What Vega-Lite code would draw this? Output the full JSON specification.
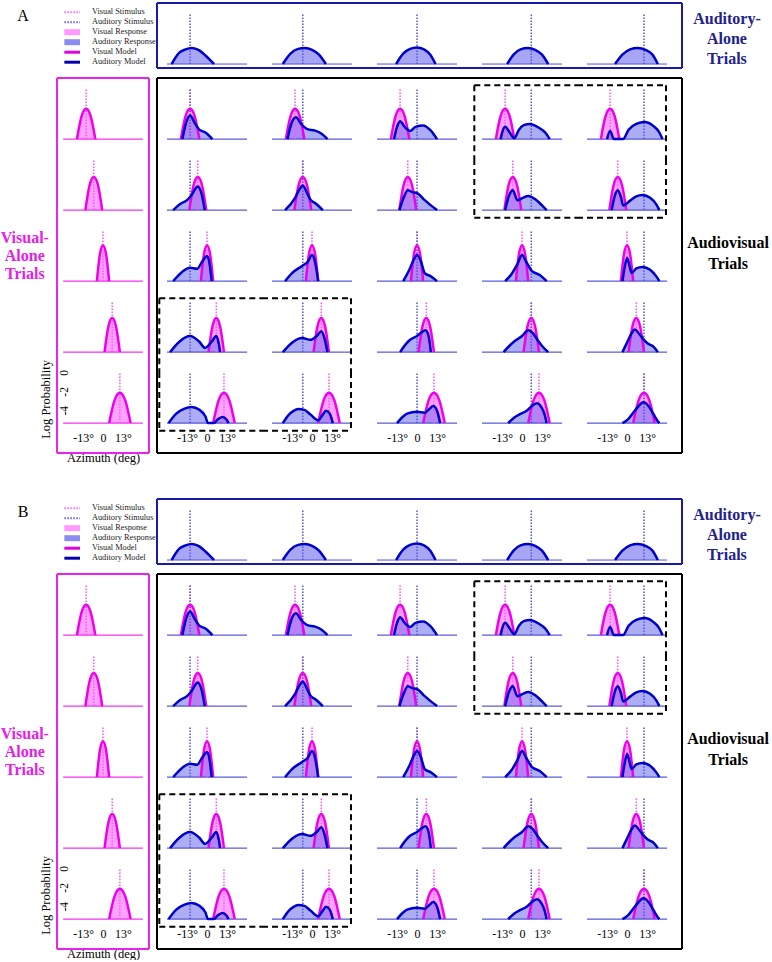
{
"$schema":"https://vega.github.io/schema/vega-lite/v6.json",
"background":"white",
"padding":{"left":0,"top":2,"right":0,"bottom":0},
"config":{"view":{"stroke":null},"font":"Liberation Serif","axisY":{"disable":true}},
"datasets":{
"lg":[{"k":"vs","it":"Visual Stimulus"},{"k":"as","it":"Auditory Stimulus"},{"k":"vr","it":"Visual Response"},{"k":"ar","it":"Auditory Response"},{"k":"vm","it":"Visual Model"},{"k":"am","it":"Auditory Model"}],
"d":[
{"p":"AB","r":1,"c":0,"sv":-11},{"p":"AB","r":2,"c":0,"sv":-6},{"p":"AB","r":3,"c":0,"sv":0},{"p":"AB","r":4,"c":0,"sv":6},{"p":"AB","r":5,"c":0,"sv":11},
{"p":"AB","r":0,"c":1,"sa":-11},{"p":"AB","r":0,"c":2,"sa":-6},{"p":"AB","r":0,"c":3,"sa":0},{"p":"AB","r":0,"c":4,"sa":6},{"p":"AB","r":0,"c":5,"sa":11},
{"p":"AB","r":1,"c":1,"sv":-11,"sa":-11},{"p":"AB","r":1,"c":2,"sv":-11,"sa":-6},{"p":"AB","r":1,"c":3,"sv":-11,"sa":0},{"p":"AB","r":1,"c":4,"sv":-11,"sa":6},{"p":"AB","r":1,"c":5,"sv":-11,"sa":11},
{"p":"AB","r":2,"c":1,"sv":-6,"sa":-11},{"p":"AB","r":2,"c":2,"sv":-6,"sa":-6},{"p":"AB","r":2,"c":3,"sv":-6,"sa":0},{"p":"AB","r":2,"c":4,"sv":-6,"sa":6},{"p":"AB","r":2,"c":5,"sv":-6,"sa":11},
{"p":"AB","r":3,"c":1,"sv":0,"sa":-11},{"p":"AB","r":3,"c":2,"sv":0,"sa":-6},{"p":"AB","r":3,"c":3,"sv":0,"sa":0},{"p":"AB","r":3,"c":4,"sv":0,"sa":6},{"p":"AB","r":3,"c":5,"sv":0,"sa":11},
{"p":"AB","r":4,"c":1,"sv":6,"sa":-11},{"p":"AB","r":4,"c":2,"sv":6,"sa":-6},{"p":"AB","r":4,"c":3,"sv":6,"sa":0},{"p":"AB","r":4,"c":4,"sv":6,"sa":6},{"p":"AB","r":4,"c":5,"sv":6,"sa":11},
{"p":"AB","r":5,"c":1,"sv":11,"sa":-11},{"p":"AB","r":5,"c":2,"sv":11,"sa":-6},{"p":"AB","r":5,"c":3,"sv":11,"sa":0},{"p":"AB","r":5,"c":4,"sv":11,"sa":6},{"p":"AB","r":5,"c":5,"sv":11,"sa":11},

{"p":"AB","r":1,"c":0,"x":-17,"v":-5.3},{"p":"AB","r":1,"c":0,"x":-14,"v":-2.9},{"p":"AB","r":1,"c":0,"x":-11,"v":-2.1},{"p":"AB","r":1,"c":0,"x":-8,"v":-2.9},{"p":"AB","r":1,"c":0,"x":-5,"v":-5.3},
{"p":"AB","r":1,"c":1,"x":-17,"v":-5.3},{"p":"AB","r":1,"c":1,"x":-14,"v":-2.9},{"p":"AB","r":1,"c":1,"x":-11,"v":-2.1},{"p":"AB","r":1,"c":1,"x":-8,"v":-2.9},{"p":"AB","r":1,"c":1,"x":-5,"v":-5.3},
{"p":"AB","r":1,"c":2,"x":-17,"v":-5.3},{"p":"AB","r":1,"c":2,"x":-14,"v":-2.9},{"p":"AB","r":1,"c":2,"x":-11,"v":-2.1},{"p":"AB","r":1,"c":2,"x":-8,"v":-2.9},{"p":"AB","r":1,"c":2,"x":-5,"v":-5.3},
{"p":"AB","r":1,"c":3,"x":-17,"v":-5.3},{"p":"AB","r":1,"c":3,"x":-14,"v":-2.9},{"p":"AB","r":1,"c":3,"x":-11,"v":-2.1},{"p":"AB","r":1,"c":3,"x":-8,"v":-2.9},{"p":"AB","r":1,"c":3,"x":-5,"v":-5.3},
{"p":"AB","r":1,"c":4,"x":-17,"v":-5.3},{"p":"AB","r":1,"c":4,"x":-14,"v":-2.9},{"p":"AB","r":1,"c":4,"x":-11,"v":-2.1},{"p":"AB","r":1,"c":4,"x":-8,"v":-2.9},{"p":"AB","r":1,"c":4,"x":-5,"v":-5.3},
{"p":"AB","r":1,"c":5,"x":-17,"v":-5.3},{"p":"AB","r":1,"c":5,"x":-14,"v":-2.9},{"p":"AB","r":1,"c":5,"x":-11,"v":-2.1},{"p":"AB","r":1,"c":5,"x":-8,"v":-2.9},{"p":"AB","r":1,"c":5,"x":-5,"v":-5.3},
{"p":"AB","r":2,"c":0,"x":-11.5,"v":-5.3},{"p":"AB","r":2,"c":0,"x":-8.75,"v":-2.67},{"p":"AB","r":2,"c":0,"x":-6,"v":-1.8},{"p":"AB","r":2,"c":0,"x":-3.25,"v":-2.67},{"p":"AB","r":2,"c":0,"x":-0.5,"v":-5.3},
{"p":"AB","r":2,"c":1,"x":-11.5,"v":-5.3},{"p":"AB","r":2,"c":1,"x":-8.75,"v":-2.67},{"p":"AB","r":2,"c":1,"x":-6,"v":-1.8},{"p":"AB","r":2,"c":1,"x":-3.25,"v":-2.67},{"p":"AB","r":2,"c":1,"x":-0.5,"v":-5.3},
{"p":"AB","r":2,"c":2,"x":-11.5,"v":-5.3},{"p":"AB","r":2,"c":2,"x":-8.75,"v":-2.67},{"p":"AB","r":2,"c":2,"x":-6,"v":-1.8},{"p":"AB","r":2,"c":2,"x":-3.25,"v":-2.67},{"p":"AB","r":2,"c":2,"x":-0.5,"v":-5.3},
{"p":"AB","r":2,"c":3,"x":-11.5,"v":-5.3},{"p":"AB","r":2,"c":3,"x":-8.75,"v":-2.67},{"p":"AB","r":2,"c":3,"x":-6,"v":-1.8},{"p":"AB","r":2,"c":3,"x":-3.25,"v":-2.67},{"p":"AB","r":2,"c":3,"x":-0.5,"v":-5.3},
{"p":"AB","r":2,"c":4,"x":-11.5,"v":-5.3},{"p":"AB","r":2,"c":4,"x":-8.75,"v":-2.67},{"p":"AB","r":2,"c":4,"x":-6,"v":-1.8},{"p":"AB","r":2,"c":4,"x":-3.25,"v":-2.67},{"p":"AB","r":2,"c":4,"x":-0.5,"v":-5.3},
{"p":"AB","r":2,"c":5,"x":-11.5,"v":-5.3},{"p":"AB","r":2,"c":5,"x":-8.75,"v":-2.67},{"p":"AB","r":2,"c":5,"x":-6,"v":-1.8},{"p":"AB","r":2,"c":5,"x":-3.25,"v":-2.67},{"p":"AB","r":2,"c":5,"x":-0.5,"v":-5.3},
{"p":"AB","r":3,"c":0,"x":-4,"v":-5.3},{"p":"AB","r":3,"c":0,"x":-2,"v":-2.45},{"p":"AB","r":3,"c":0,"x":0,"v":-1.5},{"p":"AB","r":3,"c":0,"x":2,"v":-2.45},{"p":"AB","r":3,"c":0,"x":4,"v":-5.3},
{"p":"AB","r":3,"c":1,"x":-4,"v":-5.3},{"p":"AB","r":3,"c":1,"x":-2,"v":-2.45},{"p":"AB","r":3,"c":1,"x":0,"v":-1.5},{"p":"AB","r":3,"c":1,"x":2,"v":-2.45},{"p":"AB","r":3,"c":1,"x":4,"v":-5.3},
{"p":"AB","r":3,"c":2,"x":-4,"v":-5.3},{"p":"AB","r":3,"c":2,"x":-2,"v":-2.45},{"p":"AB","r":3,"c":2,"x":0,"v":-1.5},{"p":"AB","r":3,"c":2,"x":2,"v":-2.45},{"p":"AB","r":3,"c":2,"x":4,"v":-5.3},
{"p":"AB","r":3,"c":3,"x":-4,"v":-5.3},{"p":"AB","r":3,"c":3,"x":-2,"v":-2.45},{"p":"AB","r":3,"c":3,"x":0,"v":-1.5},{"p":"AB","r":3,"c":3,"x":2,"v":-2.45},{"p":"AB","r":3,"c":3,"x":4,"v":-5.3},
{"p":"AB","r":3,"c":4,"x":-4,"v":-5.3},{"p":"AB","r":3,"c":4,"x":-2,"v":-2.45},{"p":"AB","r":3,"c":4,"x":0,"v":-1.5},{"p":"AB","r":3,"c":4,"x":2,"v":-2.45},{"p":"AB","r":3,"c":4,"x":4,"v":-5.3},
{"p":"AB","r":3,"c":5,"x":-4,"v":-5.3},{"p":"AB","r":3,"c":5,"x":-2,"v":-2.45},{"p":"AB","r":3,"c":5,"x":0,"v":-1.5},{"p":"AB","r":3,"c":5,"x":2,"v":-2.45},{"p":"AB","r":3,"c":5,"x":4,"v":-5.3},
{"p":"AB","r":4,"c":0,"x":1,"v":-5.3},{"p":"AB","r":4,"c":0,"x":3.5,"v":-2.6},{"p":"AB","r":4,"c":0,"x":6,"v":-1.7},{"p":"AB","r":4,"c":0,"x":8.5,"v":-2.6},{"p":"AB","r":4,"c":0,"x":11,"v":-5.3},
{"p":"AB","r":4,"c":1,"x":1,"v":-5.3},{"p":"AB","r":4,"c":1,"x":3.5,"v":-2.6},{"p":"AB","r":4,"c":1,"x":6,"v":-1.7},{"p":"AB","r":4,"c":1,"x":8.5,"v":-2.6},{"p":"AB","r":4,"c":1,"x":11,"v":-5.3},
{"p":"AB","r":4,"c":2,"x":1,"v":-5.3},{"p":"AB","r":4,"c":2,"x":3.5,"v":-2.6},{"p":"AB","r":4,"c":2,"x":6,"v":-1.7},{"p":"AB","r":4,"c":2,"x":8.5,"v":-2.6},{"p":"AB","r":4,"c":2,"x":11,"v":-5.3},
{"p":"AB","r":4,"c":3,"x":1,"v":-5.3},{"p":"AB","r":4,"c":3,"x":3.5,"v":-2.6},{"p":"AB","r":4,"c":3,"x":6,"v":-1.7},{"p":"AB","r":4,"c":3,"x":8.5,"v":-2.6},{"p":"AB","r":4,"c":3,"x":11,"v":-5.3},
{"p":"AB","r":4,"c":4,"x":1,"v":-5.3},{"p":"AB","r":4,"c":4,"x":3.5,"v":-2.6},{"p":"AB","r":4,"c":4,"x":6,"v":-1.7},{"p":"AB","r":4,"c":4,"x":8.5,"v":-2.6},{"p":"AB","r":4,"c":4,"x":11,"v":-5.3},
{"p":"AB","r":4,"c":5,"x":1,"v":-5.3},{"p":"AB","r":4,"c":5,"x":3.5,"v":-2.6},{"p":"AB","r":4,"c":5,"x":6,"v":-1.7},{"p":"AB","r":4,"c":5,"x":8.5,"v":-2.6},{"p":"AB","r":4,"c":5,"x":11,"v":-5.3},
{"p":"AB","r":5,"c":0,"x":4,"v":-5.3},{"p":"AB","r":5,"c":0,"x":7.5,"v":-2.9},{"p":"AB","r":5,"c":0,"x":11,"v":-2.1},{"p":"AB","r":5,"c":0,"x":14.5,"v":-2.9},{"p":"AB","r":5,"c":0,"x":18,"v":-5.3},
{"p":"AB","r":5,"c":1,"x":4,"v":-5.3},{"p":"AB","r":5,"c":1,"x":7.5,"v":-2.9},{"p":"AB","r":5,"c":1,"x":11,"v":-2.1},{"p":"AB","r":5,"c":1,"x":14.5,"v":-2.9},{"p":"AB","r":5,"c":1,"x":18,"v":-5.3},
{"p":"AB","r":5,"c":2,"x":4,"v":-5.3},{"p":"AB","r":5,"c":2,"x":7.5,"v":-2.9},{"p":"AB","r":5,"c":2,"x":11,"v":-2.1},{"p":"AB","r":5,"c":2,"x":14.5,"v":-2.9},{"p":"AB","r":5,"c":2,"x":18,"v":-5.3},
{"p":"AB","r":5,"c":3,"x":4,"v":-5.3},{"p":"AB","r":5,"c":3,"x":7.5,"v":-2.9},{"p":"AB","r":5,"c":3,"x":11,"v":-2.1},{"p":"AB","r":5,"c":3,"x":14.5,"v":-2.9},{"p":"AB","r":5,"c":3,"x":18,"v":-5.3},
{"p":"AB","r":5,"c":4,"x":4,"v":-5.3},{"p":"AB","r":5,"c":4,"x":7.5,"v":-2.9},{"p":"AB","r":5,"c":4,"x":11,"v":-2.1},{"p":"AB","r":5,"c":4,"x":14.5,"v":-2.9},{"p":"AB","r":5,"c":4,"x":18,"v":-5.3},
{"p":"AB","r":5,"c":5,"x":4,"v":-5.3},{"p":"AB","r":5,"c":5,"x":7.5,"v":-2.9},{"p":"AB","r":5,"c":5,"x":11,"v":-2.1},{"p":"AB","r":5,"c":5,"x":14.5,"v":-2.9},{"p":"AB","r":5,"c":5,"x":18,"v":-5.3},

{"p":"AB","r":0,"c":1,"x":-23,"a":-5.3},{"p":"AB","r":0,"c":1,"x":-18,"a":-4.1},{"p":"AB","r":0,"c":1,"x":-14,"a":-3.75},{"p":"AB","r":0,"c":1,"x":-10,"a":-3.6},{"p":"AB","r":0,"c":1,"x":-5,"a":-3.85},{"p":"AB","r":0,"c":1,"x":-1,"a":-4.4},{"p":"AB","r":0,"c":1,"x":4.5,"a":-5.3},
{"p":"AB","r":0,"c":2,"x":-19,"a":-5.3},{"p":"AB","r":0,"c":2,"x":-14,"a":-4.2},{"p":"AB","r":0,"c":2,"x":-9,"a":-3.7},{"p":"AB","r":0,"c":2,"x":-4.5,"a":-3.6},{"p":"AB","r":0,"c":2,"x":0,"a":-3.8},{"p":"AB","r":0,"c":2,"x":4.5,"a":-4.3},{"p":"AB","r":0,"c":2,"x":9,"a":-5.3},
{"p":"AB","r":0,"c":3,"x":-13.6,"a":-5.3},{"p":"AB","r":0,"c":3,"x":-9,"a":-4.2},{"p":"AB","r":0,"c":3,"x":-4.5,"a":-3.7},{"p":"AB","r":0,"c":3,"x":0,"a":-3.55},{"p":"AB","r":0,"c":3,"x":4.5,"a":-3.75},{"p":"AB","r":0,"c":3,"x":8.5,"a":-4.3},{"p":"AB","r":0,"c":3,"x":12,"a":-5.3},
{"p":"AB","r":0,"c":4,"x":-9.7,"a":-5.3},{"p":"AB","r":0,"c":4,"x":-5.5,"a":-4.3},{"p":"AB","r":0,"c":4,"x":-1,"a":-3.75},{"p":"AB","r":0,"c":4,"x":4,"a":-3.6},{"p":"AB","r":0,"c":4,"x":8.5,"a":-3.8},{"p":"AB","r":0,"c":4,"x":13,"a":-4.3},{"p":"AB","r":0,"c":4,"x":17,"a":-5.3},
{"p":"AB","r":0,"c":5,"x":-7.8,"a":-5.3},{"p":"AB","r":0,"c":5,"x":-3,"a":-4.3},{"p":"AB","r":0,"c":5,"x":2,"a":-3.75},{"p":"AB","r":0,"c":5,"x":7,"a":-3.6},{"p":"AB","r":0,"c":5,"x":12,"a":-3.8},{"p":"AB","r":0,"c":5,"x":16.5,"a":-4.3},{"p":"AB","r":0,"c":5,"x":20,"a":-5.3},

{"p":"AB","r":1,"c":1,"x":-16,"a":-5.3},{"p":"AB","r":1,"c":1,"x":-14,"a":-3.8},{"p":"AB","r":1,"c":1,"x":-11,"a":-2.8},{"p":"AB","r":1,"c":1,"x":-8,"a":-3.6},{"p":"AB","r":1,"c":1,"x":-5,"a":-4.3},{"p":"AB","r":1,"c":1,"x":-1,"a":-4.6},{"p":"AB","r":1,"c":1,"x":3.5,"a":-5.3},
{"p":"AB","r":1,"c":2,"x":-16,"a":-5.3},{"p":"AB","r":1,"c":2,"x":-13.5,"a":-3.7},{"p":"AB","r":1,"c":2,"x":-10.5,"a":-3.0},{"p":"AB","r":1,"c":2,"x":-7,"a":-3.7},{"p":"AB","r":1,"c":2,"x":-3,"a":-4.25},{"p":"AB","r":1,"c":2,"x":2,"a":-4.4},{"p":"AB","r":1,"c":2,"x":6,"a":-4.7},{"p":"AB","r":1,"c":2,"x":10,"a":-5.3},
{"p":"AB","r":1,"c":3,"x":-15,"a":-5.3},{"p":"AB","r":1,"c":3,"x":-13,"a":-4.0},{"p":"AB","r":1,"c":3,"x":-11,"a":-3.4},{"p":"AB","r":1,"c":3,"x":-8,"a":-4.0},{"p":"AB","r":1,"c":3,"x":-4.5,"a":-4.45},{"p":"AB","r":1,"c":3,"x":-1,"a":-4.0},{"p":"AB","r":1,"c":3,"x":4,"a":-3.85},{"p":"AB","r":1,"c":3,"x":9,"a":-4.4},{"p":"AB","r":1,"c":3,"x":13,"a":-5.3},
{"p":"AB","r":1,"c":4,"x":-14,"a":-5.3},{"p":"AB","r":1,"c":4,"x":-11,"a":-4.0},{"p":"AB","r":1,"c":4,"x":-8,"a":-4.6},{"p":"AB","r":1,"c":4,"x":-5,"a":-5.2},{"p":"AB","r":1,"c":4,"x":-2,"a":-4.3},{"p":"AB","r":1,"c":4,"x":1.5,"a":-3.8},{"p":"AB","r":1,"c":4,"x":5,"a":-3.7},{"p":"AB","r":1,"c":4,"x":11,"a":-4.1},{"p":"AB","r":1,"c":4,"x":15,"a":-4.6},{"p":"AB","r":1,"c":4,"x":18,"a":-5.3},
{"p":"AB","r":1,"c":5,"x":-13,"a":-5.3},{"p":"AB","r":1,"c":5,"x":-11,"a":-4.45},{"p":"AB","r":1,"c":5,"x":-8.5,"a":-5.3},{"p":"AB","r":1,"c":5,"x":-2.6,"a":-5.3},{"p":"AB","r":1,"c":5,"x":1,"a":-4.3},{"p":"AB","r":1,"c":5,"x":6,"a":-3.7},{"p":"AB","r":1,"c":5,"x":11.5,"a":-3.5},{"p":"AB","r":1,"c":5,"x":17,"a":-3.9},{"p":"AB","r":1,"c":5,"x":21,"a":-4.6},{"p":"AB","r":1,"c":5,"x":23,"a":-5.3},
{"p":"AB","r":2,"c":1,"x":-22,"a":-5.3},{"p":"AB","r":2,"c":1,"x":-17.5,"a":-4.65},{"p":"AB","r":2,"c":1,"x":-13,"a":-4.25},{"p":"AB","r":2,"c":1,"x":-10,"a":-3.7},{"p":"AB","r":2,"c":1,"x":-6,"a":-2.8},{"p":"AB","r":2,"c":1,"x":-3.5,"a":-3.6},{"p":"AB","r":2,"c":1,"x":-1.5,"a":-5.3},
{"p":"AB","r":2,"c":2,"x":-17.5,"a":-5.3},{"p":"AB","r":2,"c":2,"x":-11,"a":-4.0},{"p":"AB","r":2,"c":2,"x":-8.5,"a":-3.2},{"p":"AB","r":2,"c":2,"x":-6,"a":-2.7},{"p":"AB","r":2,"c":2,"x":-3.5,"a":-3.4},{"p":"AB","r":2,"c":2,"x":-1,"a":-4.2},{"p":"AB","r":2,"c":2,"x":2,"a":-4.55},{"p":"AB","r":2,"c":2,"x":7,"a":-5.3},
{"p":"AB","r":2,"c":3,"x":-11.5,"a":-5.3},{"p":"AB","r":2,"c":3,"x":-8.5,"a":-3.9},{"p":"AB","r":2,"c":3,"x":-6,"a":-3.2},{"p":"AB","r":2,"c":3,"x":-3,"a":-3.4},{"p":"AB","r":2,"c":3,"x":0,"a":-3.5},{"p":"AB","r":2,"c":3,"x":5,"a":-4.25},{"p":"AB","r":2,"c":3,"x":9,"a":-4.8},{"p":"AB","r":2,"c":3,"x":13,"a":-5.3},
{"p":"AB","r":2,"c":4,"x":-11,"a":-5.3},{"p":"AB","r":2,"c":4,"x":-8.5,"a":-3.8},{"p":"AB","r":2,"c":4,"x":-6,"a":-3.2},{"p":"AB","r":2,"c":4,"x":-3,"a":-4.25},{"p":"AB","r":2,"c":4,"x":0.5,"a":-4.0},{"p":"AB","r":2,"c":4,"x":4,"a":-3.8},{"p":"AB","r":2,"c":4,"x":9,"a":-4.2},{"p":"AB","r":2,"c":4,"x":13,"a":-4.8},{"p":"AB","r":2,"c":4,"x":16,"a":-5.3},
{"p":"AB","r":2,"c":5,"x":-10,"a":-5.3},{"p":"AB","r":2,"c":5,"x":-8,"a":-3.8},{"p":"AB","r":2,"c":5,"x":-6,"a":-3.2},{"p":"AB","r":2,"c":5,"x":-4,"a":-3.9},{"p":"AB","r":2,"c":5,"x":-2.5,"a":-4.8},{"p":"AB","r":2,"c":5,"x":2,"a":-4.3},{"p":"AB","r":2,"c":5,"x":6,"a":-3.85},{"p":"AB","r":2,"c":5,"x":10,"a":-3.7},{"p":"AB","r":2,"c":5,"x":15,"a":-4.0},{"p":"AB","r":2,"c":5,"x":19,"a":-4.7},{"p":"AB","r":2,"c":5,"x":21,"a":-5.3},
{"p":"AB","r":3,"c":1,"x":-22,"a":-5.3},{"p":"AB","r":3,"c":1,"x":-16,"a":-4.3},{"p":"AB","r":3,"c":1,"x":-11,"a":-3.9},{"p":"AB","r":3,"c":1,"x":-6.5,"a":-4.0},{"p":"AB","r":3,"c":1,"x":-3,"a":-3.2},{"p":"AB","r":3,"c":1,"x":0,"a":-2.65},{"p":"AB","r":3,"c":1,"x":1.5,"a":-3.3},{"p":"AB","r":3,"c":1,"x":3,"a":-5.3},
{"p":"AB","r":3,"c":2,"x":-17.5,"a":-5.3},{"p":"AB","r":3,"c":2,"x":-13,"a":-4.45},{"p":"AB","r":3,"c":2,"x":-6.5,"a":-3.7},{"p":"AB","r":3,"c":2,"x":-3,"a":-3.3},{"p":"AB","r":3,"c":2,"x":0,"a":-2.55},{"p":"AB","r":3,"c":2,"x":2,"a":-3.3},{"p":"AB","r":3,"c":2,"x":4,"a":-5.3},
{"p":"AB","r":3,"c":3,"x":-9,"a":-5.3},{"p":"AB","r":3,"c":3,"x":-5,"a":-4.1},{"p":"AB","r":3,"c":3,"x":-2,"a":-3.0},{"p":"AB","r":3,"c":3,"x":0,"a":-2.55},{"p":"AB","r":3,"c":3,"x":2.5,"a":-3.2},{"p":"AB","r":3,"c":3,"x":5,"a":-4.45},{"p":"AB","r":3,"c":3,"x":9,"a":-4.8},{"p":"AB","r":3,"c":3,"x":13,"a":-5.3},
{"p":"AB","r":3,"c":4,"x":-11,"a":-5.3},{"p":"AB","r":3,"c":4,"x":-7,"a":-4.6},{"p":"AB","r":3,"c":4,"x":-3,"a":-3.5},{"p":"AB","r":3,"c":4,"x":0,"a":-2.55},{"p":"AB","r":3,"c":4,"x":2.5,"a":-3.2},{"p":"AB","r":3,"c":4,"x":6.5,"a":-4.25},{"p":"AB","r":3,"c":4,"x":11.5,"a":-4.65},{"p":"AB","r":3,"c":4,"x":16,"a":-5.3},
{"p":"AB","r":3,"c":5,"x":-3,"a":-5.3},{"p":"AB","r":3,"c":5,"x":-1.5,"a":-3.8},{"p":"AB","r":3,"c":5,"x":0,"a":-2.85},{"p":"AB","r":3,"c":5,"x":1.5,"a":-3.6},{"p":"AB","r":3,"c":5,"x":3,"a":-4.45},{"p":"AB","r":3,"c":5,"x":6,"a":-3.95},{"p":"AB","r":3,"c":5,"x":10,"a":-3.8},{"p":"AB","r":3,"c":5,"x":15,"a":-4.1},{"p":"AB","r":3,"c":5,"x":19,"a":-4.8},{"p":"AB","r":3,"c":5,"x":21,"a":-5.3},
{"p":"AB","r":4,"c":1,"x":-24,"a":-5.3},{"p":"AB","r":4,"c":1,"x":-18,"a":-4.2},{"p":"AB","r":4,"c":1,"x":-11,"a":-3.6},{"p":"AB","r":4,"c":1,"x":-5,"a":-4.2},{"p":"AB","r":4,"c":1,"x":-1.3,"a":-4.85},{"p":"AB","r":4,"c":1,"x":3,"a":-4.2},{"p":"AB","r":4,"c":1,"x":6,"a":-3.6},{"p":"AB","r":4,"c":1,"x":7.5,"a":-4.3},{"p":"AB","r":4,"c":1,"x":8.5,"a":-5.3},
{"p":"AB","r":4,"c":2,"x":-19,"a":-5.3},{"p":"AB","r":4,"c":2,"x":-13,"a":-4.3},{"p":"AB","r":4,"c":2,"x":-6.5,"a":-3.8},{"p":"AB","r":4,"c":2,"x":-1,"a":-4.0},{"p":"AB","r":4,"c":2,"x":3,"a":-3.6},{"p":"AB","r":4,"c":2,"x":6,"a":-3.1},{"p":"AB","r":4,"c":2,"x":8,"a":-3.8},{"p":"AB","r":4,"c":2,"x":10,"a":-5.3},
{"p":"AB","r":4,"c":3,"x":-11,"a":-5.3},{"p":"AB","r":4,"c":3,"x":-7,"a":-4.4},{"p":"AB","r":4,"c":3,"x":-4.5,"a":-4.0},{"p":"AB","r":4,"c":3,"x":0,"a":-3.6},{"p":"AB","r":4,"c":3,"x":3,"a":-3.2},{"p":"AB","r":4,"c":3,"x":5.5,"a":-3.0},{"p":"AB","r":4,"c":3,"x":7.5,"a":-3.6},{"p":"AB","r":4,"c":3,"x":9,"a":-5.3},
{"p":"AB","r":4,"c":4,"x":-12,"a":-5.3},{"p":"AB","r":4,"c":4,"x":-8,"a":-4.6},{"p":"AB","r":4,"c":4,"x":-4.5,"a":-4.1},{"p":"AB","r":4,"c":4,"x":0,"a":-3.6},{"p":"AB","r":4,"c":4,"x":4,"a":-3.0},{"p":"AB","r":4,"c":4,"x":7,"a":-3.3},{"p":"AB","r":4,"c":4,"x":10,"a":-4.0},{"p":"AB","r":4,"c":4,"x":13,"a":-4.65},{"p":"AB","r":4,"c":4,"x":17,"a":-5.3},
{"p":"AB","r":4,"c":5,"x":-3,"a":-5.3},{"p":"AB","r":4,"c":5,"x":0,"a":-4.3},{"p":"AB","r":4,"c":5,"x":3,"a":-3.3},{"p":"AB","r":4,"c":5,"x":5,"a":-2.9},{"p":"AB","r":4,"c":5,"x":8,"a":-3.4},{"p":"AB","r":4,"c":5,"x":11,"a":-4.0},{"p":"AB","r":4,"c":5,"x":13.5,"a":-4.4},{"p":"AB","r":4,"c":5,"x":17,"a":-4.7},{"p":"AB","r":4,"c":5,"x":20,"a":-5.3},
{"p":"AB","r":5,"c":1,"x":-25,"a":-5.3},{"p":"AB","r":5,"c":1,"x":-20,"a":-4.3},{"p":"AB","r":5,"c":1,"x":-15,"a":-3.8},{"p":"AB","r":5,"c":1,"x":-10,"a":-3.6},{"p":"AB","r":5,"c":1,"x":-5,"a":-3.9},{"p":"AB","r":5,"c":1,"x":-1,"a":-4.6},{"p":"AB","r":5,"c":1,"x":0.6,"a":-5.3},{"p":"AB","r":5,"c":1,"x":4.5,"a":-5.3},{"p":"AB","r":5,"c":1,"x":7,"a":-4.9},{"p":"AB","r":5,"c":1,"x":10,"a":-4.65},{"p":"AB","r":5,"c":1,"x":12.5,"a":-4.9},{"p":"AB","r":5,"c":1,"x":14,"a":-5.3},
{"p":"AB","r":5,"c":2,"x":-19,"a":-5.3},{"p":"AB","r":5,"c":2,"x":-15,"a":-4.4},{"p":"AB","r":5,"c":2,"x":-12,"a":-4.0},{"p":"AB","r":5,"c":2,"x":-9,"a":-3.8},{"p":"AB","r":5,"c":2,"x":-5,"a":-3.9},{"p":"AB","r":5,"c":2,"x":-1,"a":-4.4},{"p":"AB","r":5,"c":2,"x":4,"a":-5.0},{"p":"AB","r":5,"c":2,"x":7,"a":-4.4},{"p":"AB","r":5,"c":2,"x":9,"a":-4.0},{"p":"AB","r":5,"c":2,"x":11.5,"a":-4.3},{"p":"AB","r":5,"c":2,"x":13.5,"a":-5.3},
{"p":"AB","r":5,"c":3,"x":-13,"a":-5.3},{"p":"AB","r":5,"c":3,"x":-9,"a":-4.6},{"p":"AB","r":5,"c":3,"x":-6.5,"a":-4.3},{"p":"AB","r":5,"c":3,"x":0,"a":-4.1},{"p":"AB","r":5,"c":3,"x":5,"a":-4.2},{"p":"AB","r":5,"c":3,"x":8,"a":-3.8},{"p":"AB","r":5,"c":3,"x":10.5,"a":-3.5},{"p":"AB","r":5,"c":3,"x":13,"a":-4.0},{"p":"AB","r":5,"c":3,"x":15,"a":-5.3},
{"p":"AB","r":5,"c":4,"x":-9,"a":-5.3},{"p":"AB","r":5,"c":4,"x":-5,"a":-4.7},{"p":"AB","r":5,"c":4,"x":-1.3,"a":-4.35},{"p":"AB","r":5,"c":4,"x":3,"a":-4.0},{"p":"AB","r":5,"c":4,"x":7,"a":-3.4},{"p":"AB","r":5,"c":4,"x":9.7,"a":-3.2},{"p":"AB","r":5,"c":4,"x":12.5,"a":-3.6},{"p":"AB","r":5,"c":4,"x":14.5,"a":-4.3},{"p":"AB","r":5,"c":4,"x":16,"a":-5.3},
{"p":"AB","r":5,"c":5,"x":-3,"a":-5.3},{"p":"AB","r":5,"c":5,"x":0.6,"a":-4.9},{"p":"AB","r":5,"c":5,"x":4,"a":-4.2},{"p":"AB","r":5,"c":5,"x":7,"a":-3.6},{"p":"AB","r":5,"c":5,"x":10.5,"a":-3.1},{"p":"AB","r":5,"c":5,"x":14,"a":-3.5},{"p":"AB","r":5,"c":5,"x":17,"a":-4.3},{"p":"AB","r":5,"c":5,"x":19.5,"a":-5.0},{"p":"AB","r":5,"c":5,"x":21,"a":-5.3}
]},
"spacing":34,
"vconcat":[
{"concat":[
 {"width":92,"height":66,"data":{"name":"lg"},"layer":[
  {"mark":{"type":"text","fontSize":16,"dy":4,"color":"black"},"transform":[{"filter":"datum.k=='vs'"}],"encoding":{"x":{"datum":-3.7,"scale":{"domain":[0,9.2]},"axis":null},"y":{"field":"it","type":"nominal","scale":{"type":"band","domain":["Visual Stimulus","Auditory Stimulus","Visual Response","Auditory Response","Visual Model","Auditory Model"],"paddingInner":0,"paddingOuter":0.3,"align":0.7},"axis":null},"text":{"value":"A"}}},
  {"mark":{"type":"rule","strokeWidth":2,"strokeDash":[1.5,1.5]},"transform":[{"filter":"datum.k=='vs'||datum.k=='as'"}],"encoding":{"x":{"datum":0.8,"axis":null},"x2":{"datum":2.5},"y":{"field":"it","type":"nominal","axis":null},"color":{"field":"k","type":"nominal","scale":{"domain":["vs","as","vr","ar","vm","am"],"range":["#ff66ff","#6666dd","#ff99ff","#8c8cf0","#e000e0","#0000b0"]},"legend":null}}},
  {"mark":{"type":"bar","size":6},"transform":[{"filter":"datum.k=='vr'||datum.k=='ar'"}],"encoding":{"x":{"datum":0.8,"axis":null},"x2":{"datum":2.5},"y":{"field":"it","type":"nominal","axis":null},"color":{"field":"k","type":"nominal","legend":null}}},
  {"mark":{"type":"rule","strokeWidth":3},"transform":[{"filter":"datum.k=='vm'||datum.k=='am'"}],"encoding":{"x":{"datum":0.8,"axis":null},"x2":{"datum":2.5},"y":{"field":"it","type":"nominal","axis":null},"color":{"field":"k","type":"nominal","legend":null}}},
  {"mark":{"type":"text","align":"left","baseline":"middle","fontSize":8.3,"color":"#222"},"encoding":{"x":{"datum":3.8,"axis":null},"y":{"field":"it","type":"nominal","axis":null},"text":{"field":"it"}}}
 ]},
 {"data":{"name":"d"},"transform":[{"filter":"indexof(datum.p,'A')>=0&&datum.r==0"}],
  "bounds":"flush","spacing":0,
  "facet":{"column":{"field":"c","type":"ordinal","title":null,"header":{"labels":false}}},
  "spec":{"width":105,"height":65,"layer":[
   {"mark":{"type":"area","color":"#7777ee","opacity":0.65,"interpolate":"monotone"},"transform":[{"filter":"isValid(datum.a)"}],"encoding":{"x":{"field":"x","type":"quantitative","scale":{"domain":[-32.5,35.7],"nice":false,"zero":false},"axis":null},"y":{"field":"a","type":"quantitative","scale":{"domain":[-5.72,1.16],"nice":false,"zero":false}},"y2":{"datum":-5.3}}},
   {"mark":{"type":"rule","color":"#5555dd","strokeWidth":1},"transform":[{"filter":"isValid(datum.sa)"}],"encoding":{"x":{"datum":-26,"axis":null},"x2":{"datum":26},"y":{"datum":-5.3}}},
   {"mark":{"type":"rule","color":"#5555dd","strokeWidth":1.5,"strokeDash":[1.5,1.5]},"transform":[{"filter":"isValid(datum.sa)"}],"encoding":{"x":{"field":"sa","type":"quantitative","axis":null},"y":{"datum":-5.3},"y2":{"datum":0}}},
   {"mark":{"type":"line","color":"#0000cc","strokeWidth":2.5,"interpolate":"monotone"},"transform":[{"filter":"isValid(datum.a)"}],"encoding":{"x":{"field":"x","type":"quantitative","axis":null},"y":{"field":"a","type":"quantitative"}}},
   {"mark":{"type":"rule","color":"#1a1aaa","strokeWidth":2},"transform":[{"filter":"isValid(datum.sa)"}],"encoding":{"y":{"datum":1.16}}},
   {"mark":{"type":"rule","color":"#1a1aaa","strokeWidth":2},"transform":[{"filter":"isValid(datum.sa)"}],"encoding":{"y":{"datum":-5.72}}},
   {"mark":{"type":"rule","color":"#1a1aaa","strokeWidth":2},"transform":[{"filter":"isValid(datum.sa)&&datum.c==1"}],"encoding":{"x":{"datum":-32.5,"axis":null}}},
   {"mark":{"type":"rule","color":"#1a1aaa","strokeWidth":2},"transform":[{"filter":"isValid(datum.sa)&&datum.c==5"}],"encoding":{"x":{"datum":35.7,"axis":null}}},
   {"mark":{"type":"text","fontSize":16,"fontWeight":"bold","color":"#22228c","lineHeight":20,"align":"center","baseline":"middle"},"transform":[{"filter":"isValid(datum.sa)&&datum.c==5"}],"encoding":{"x":{"datum":64.9,"axis":null},"y":{"datum":-0.53},"text":{"value":["Auditory-","Alone","Trials"]}}}
  ]}},
 {"data":{"name":"d"},"transform":[{"filter":"indexof(datum.p,'A')>=0&&datum.c==0"}],
  "bounds":"flush","spacing":0,
  "facet":{"row":{"field":"r","type":"ordinal","title":null,"header":{"labels":false}}},
  "spec":{"width":92,"height":71,"layer":[
   {"mark":{"type":"area","color":"#ff66ff","opacity":0.6,"interpolate":"monotone"},"transform":[{"filter":"isValid(datum.v)"}],"encoding":{"x":{"field":"x","type":"quantitative","scale":{"domain":[-30,30],"nice":false,"zero":false},"axis":{"values":[-13,0,13],"labelExpr":"datum.value==0?'0':datum.value+'°'","title":"Azimuth (deg)","titleFontWeight":"normal","titleFontSize":12.5,"titleColor":"black","titlePadding":8,"offset":-20,"domain":false,"ticks":false,"grid":false,"labelPadding":9,"labelFontSize":12,"labelColor":"black"}},"y":{"field":"v","type":"quantitative","scale":{"domain":[-7.4,0.1],"nice":false,"zero":false}},"y2":{"datum":-5.3}}},
   {"mark":{"type":"rule","color":"#ee00ee","strokeWidth":1},"transform":[{"filter":"isValid(datum.sv)"}],"encoding":{"x":{"datum":-26},"x2":{"datum":26},"y":{"datum":-5.3}}},
   {"mark":{"type":"rule","color":"#ff55ff","strokeWidth":1.5,"strokeDash":[1.5,1.5]},"transform":[{"filter":"isValid(datum.sv)"}],"encoding":{"x":{"field":"sv","type":"quantitative"},"y":{"datum":-5.3},"y2":{"datum":0}}},
   {"mark":{"type":"line","color":"#ee00ee","strokeWidth":2.5,"interpolate":"monotone"},"transform":[{"filter":"isValid(datum.v)"}],"encoding":{"x":{"field":"x","type":"quantitative"},"y":{"field":"v","type":"quantitative"}}},
   {"mark":{"type":"rule","color":"#ee22ee","strokeWidth":2},"transform":[{"filter":"isValid(datum.sv)&&datum.r==1"}],"encoding":{"y":{"datum":1.16}}},
   {"mark":{"type":"rule","color":"#ee22ee","strokeWidth":2},"transform":[{"filter":"isValid(datum.sv)&&datum.r==5"}],"encoding":{"y":{"datum":-8.46}}},
   {"mark":{"type":"rule","color":"#ee22ee","strokeWidth":2},"transform":[{"filter":"isValid(datum.sv)"}],"encoding":{"x":{"datum":-30},"y":{"datum":1.16},"y2":{"datum":-8.46}}},
   {"mark":{"type":"rule","color":"#ee22ee","strokeWidth":2},"transform":[{"filter":"isValid(datum.sv)"}],"encoding":{"x":{"datum":30},"y":{"datum":1.16},"y2":{"datum":-8.46}}},
   {"mark":{"type":"text","angle":270,"fontSize":11.5,"color":"black"},"transform":[{"filter":"isValid(datum.sv)&&datum.r==5"}],"encoding":{"x":{"datum":-25},"y":{"datum":0},"text":{"value":"0"}}},
   {"mark":{"type":"text","angle":270,"fontSize":11.5,"color":"black"},"transform":[{"filter":"isValid(datum.sv)&&datum.r==5"}],"encoding":{"x":{"datum":-25},"y":{"datum":-2},"text":{"value":"-2"}}},
   {"mark":{"type":"text","angle":270,"fontSize":11.5,"color":"black"},"transform":[{"filter":"isValid(datum.sv)&&datum.r==5"}],"encoding":{"x":{"datum":-25},"y":{"datum":-4},"text":{"value":"-4"}}},
   {"mark":{"type":"text","angle":270,"fontSize":12.5,"color":"black"},"transform":[{"filter":"isValid(datum.sv)&&datum.r==5"}],"encoding":{"x":{"datum":-37},"y":{"datum":-2.8},"text":{"value":"Log Probability"}}},
   {"mark":{"type":"text","fontSize":16,"fontWeight":"bold","color":"#e620e6","lineHeight":18,"align":"center","baseline":"middle"},"transform":[{"filter":"isValid(datum.sv)&&datum.r==3"}],"encoding":{"x":{"datum":-51},"y":{"datum":-0.75},"text":{"value":["Visual-","Alone","Trials"]}}}
  ]}},
 {"data":{"name":"d"},"transform":[{"filter":"indexof(datum.p,'A')>=0&&datum.r>0&&datum.c>0"}],
  "bounds":"flush","spacing":0,
  "facet":{"row":{"field":"r","type":"ordinal","title":null,"header":{"labels":false}},"column":{"field":"c","type":"ordinal","title":null,"header":{"labels":false}}},
  "spec":{"width":105,"height":71,"layer":[
   {"mark":{"type":"area","color":"#ff66ff","opacity":0.6,"interpolate":"monotone"},"transform":[{"filter":"isValid(datum.v)"}],"encoding":{"x":{"field":"x","type":"quantitative","scale":{"domain":[-32.5,35.7],"nice":false,"zero":false},"axis":{"values":[-13,0,13],"labelExpr":"datum.value==0?'0':datum.value+'°'","title":null,"offset":-20,"domain":false,"ticks":false,"grid":false,"labelPadding":9,"labelFontSize":12,"labelColor":"black"}},"y":{"field":"v","type":"quantitative","scale":{"domain":[-7.4,0.1],"nice":false,"zero":false}},"y2":{"datum":-5.3}}},
   {"mark":{"type":"area","color":"#7777ee","opacity":0.6,"interpolate":"monotone"},"transform":[{"filter":"isValid(datum.a)"}],"encoding":{"x":{"field":"x","type":"quantitative"},"y":{"field":"a","type":"quantitative"},"y2":{"datum":-5.3}}},
   {"mark":{"type":"rule","color":"#3333cc","strokeWidth":1},"transform":[{"filter":"isValid(datum.sv)"}],"encoding":{"x":{"datum":-26},"x2":{"datum":26},"y":{"datum":-5.3}}},
   {"mark":{"type":"rule","color":"#ff55ff","strokeWidth":1.5,"strokeDash":[1.5,1.5]},"transform":[{"filter":"isValid(datum.sv)"}],"encoding":{"x":{"field":"sv","type":"quantitative"},"y":{"datum":-5.3},"y2":{"datum":0}}},
   {"mark":{"type":"rule","color":"#5555dd","strokeWidth":1.5,"strokeDash":[1.5,1.5]},"transform":[{"filter":"isValid(datum.sa)"}],"encoding":{"x":{"field":"sa","type":"quantitative"},"y":{"datum":-5.3},"y2":{"datum":0}}},
   {"mark":{"type":"line","color":"#ee00ee","strokeWidth":2.5,"interpolate":"monotone"},"transform":[{"filter":"isValid(datum.v)"}],"encoding":{"x":{"field":"x","type":"quantitative"},"y":{"field":"v","type":"quantitative"}}},
   {"mark":{"type":"line","color":"#0000cc","strokeWidth":2.5,"interpolate":"monotone"},"transform":[{"filter":"isValid(datum.a)"}],"encoding":{"x":{"field":"x","type":"quantitative"},"y":{"field":"a","type":"quantitative"}}},
   {"mark":{"type":"rule","color":"black","strokeWidth":2},"transform":[{"filter":"isValid(datum.sv)&&datum.r==1"}],"encoding":{"y":{"datum":1.16}}},
   {"mark":{"type":"rule","color":"black","strokeWidth":2},"transform":[{"filter":"isValid(datum.sv)&&datum.r==5"}],"encoding":{"y":{"datum":-8.46}}},
   {"mark":{"type":"rule","color":"black","strokeWidth":2},"transform":[{"filter":"isValid(datum.sv)&&datum.c==1"}],"encoding":{"x":{"datum":-32.5},"y":{"datum":1.16},"y2":{"datum":-8.46}}},
   {"mark":{"type":"rule","color":"black","strokeWidth":2},"transform":[{"filter":"isValid(datum.sv)&&datum.c==5"}],"encoding":{"x":{"datum":35.7},"y":{"datum":1.16},"y2":{"datum":-8.46}}},
   {"mark":{"type":"rule","color":"black","strokeWidth":2,"strokeDash":[6,4]},"transform":[{"filter":"isValid(datum.sv)&&((datum.r==1&&datum.c==4)||(datum.r==4&&datum.c==1))"}],"encoding":{"x":{"datum":-31},"x2":{"datum":35.7},"y":{"datum":0.4}}},
   {"mark":{"type":"rule","color":"black","strokeWidth":2,"strokeDash":[6,4]},"transform":[{"filter":"isValid(datum.sv)&&((datum.r==1&&datum.c==5)||(datum.r==4&&datum.c==2))"}],"encoding":{"x":{"datum":-32.5},"x2":{"datum":25.3},"y":{"datum":0.4}}},
   {"mark":{"type":"rule","color":"black","strokeWidth":2,"strokeDash":[6,4]},"transform":[{"filter":"isValid(datum.sv)&&((datum.r==2&&datum.c==4)||(datum.r==5&&datum.c==1))"}],"encoding":{"x":{"datum":-31},"x2":{"datum":35.7},"y":{"datum":-6.1}}},
   {"mark":{"type":"rule","color":"black","strokeWidth":2,"strokeDash":[6,4]},"transform":[{"filter":"isValid(datum.sv)&&((datum.r==2&&datum.c==5)||(datum.r==5&&datum.c==2))"}],"encoding":{"x":{"datum":-32.5},"x2":{"datum":25.3},"y":{"datum":-6.1}}},
   {"mark":{"type":"rule","color":"black","strokeWidth":2,"strokeDash":[6,4]},"transform":[{"filter":"isValid(datum.sv)&&((datum.r==1&&datum.c==4)||(datum.r==4&&datum.c==1))"}],"encoding":{"x":{"datum":-31},"y":{"datum":0.4},"y2":{"datum":-7.4}}},
   {"mark":{"type":"rule","color":"black","strokeWidth":2,"strokeDash":[6,4]},"transform":[{"filter":"isValid(datum.sv)&&((datum.r==2&&datum.c==4)||(datum.r==5&&datum.c==1))"}],"encoding":{"x":{"datum":-31},"y":{"datum":0.1},"y2":{"datum":-6.1}}},
   {"mark":{"type":"rule","color":"black","strokeWidth":2,"strokeDash":[6,4]},"transform":[{"filter":"isValid(datum.sv)&&((datum.r==1&&datum.c==5)||(datum.r==4&&datum.c==2))"}],"encoding":{"x":{"datum":25.3},"y":{"datum":0.4},"y2":{"datum":-7.4}}},
   {"mark":{"type":"rule","color":"black","strokeWidth":2,"strokeDash":[6,4]},"transform":[{"filter":"isValid(datum.sv)&&((datum.r==2&&datum.c==5)||(datum.r==5&&datum.c==2))"}],"encoding":{"x":{"datum":25.3},"y":{"datum":0.1},"y2":{"datum":-6.1}}},
   {"mark":{"type":"text","fontSize":16,"fontWeight":"bold","color":"black","lineHeight":21,"align":"center","baseline":"middle"},"transform":[{"filter":"isValid(datum.sv)&&datum.r==3&&datum.c==5"}],"encoding":{"x":{"datum":65.6},"y":{"datum":-1.27},"text":{"value":["Audiovisual","Trials"]}}}
  ]}}
],"columns":2,"align":"each","spacing":{"row":6,"column":0}},
{"concat":[
 {"width":92,"height":66,"data":{"name":"lg"},"layer":[
  {"mark":{"type":"text","fontSize":16,"dy":4,"color":"black"},"transform":[{"filter":"datum.k=='vs'"}],"encoding":{"x":{"datum":-3.7,"scale":{"domain":[0,9.2]},"axis":null},"y":{"field":"it","type":"nominal","scale":{"type":"band","domain":["Visual Stimulus","Auditory Stimulus","Visual Response","Auditory Response","Visual Model","Auditory Model"],"paddingInner":0,"paddingOuter":0.3,"align":0.7},"axis":null},"text":{"value":"B"}}},
  {"mark":{"type":"rule","strokeWidth":2,"strokeDash":[1.5,1.5]},"transform":[{"filter":"datum.k=='vs'||datum.k=='as'"}],"encoding":{"x":{"datum":0.8,"axis":null},"x2":{"datum":2.5},"y":{"field":"it","type":"nominal","axis":null},"color":{"field":"k","type":"nominal","scale":{"domain":["vs","as","vr","ar","vm","am"],"range":["#ff66ff","#6666dd","#ff99ff","#8c8cf0","#e000e0","#0000b0"]},"legend":null}}},
  {"mark":{"type":"bar","size":6},"transform":[{"filter":"datum.k=='vr'||datum.k=='ar'"}],"encoding":{"x":{"datum":0.8,"axis":null},"x2":{"datum":2.5},"y":{"field":"it","type":"nominal","axis":null},"color":{"field":"k","type":"nominal","legend":null}}},
  {"mark":{"type":"rule","strokeWidth":3},"transform":[{"filter":"datum.k=='vm'||datum.k=='am'"}],"encoding":{"x":{"datum":0.8,"axis":null},"x2":{"datum":2.5},"y":{"field":"it","type":"nominal","axis":null},"color":{"field":"k","type":"nominal","legend":null}}},
  {"mark":{"type":"text","align":"left","baseline":"middle","fontSize":8.3,"color":"#222"},"encoding":{"x":{"datum":3.8,"axis":null},"y":{"field":"it","type":"nominal","axis":null},"text":{"field":"it"}}}
 ]},
 {"data":{"name":"d"},"transform":[{"filter":"indexof(datum.p,'B')>=0&&datum.r==0"}],
  "bounds":"flush","spacing":0,
  "facet":{"column":{"field":"c","type":"ordinal","title":null,"header":{"labels":false}}},
  "spec":{"width":105,"height":65,"layer":[
   {"mark":{"type":"area","color":"#7777ee","opacity":0.65,"interpolate":"monotone"},"transform":[{"filter":"isValid(datum.a)"}],"encoding":{"x":{"field":"x","type":"quantitative","scale":{"domain":[-32.5,35.7],"nice":false,"zero":false},"axis":null},"y":{"field":"a","type":"quantitative","scale":{"domain":[-5.72,1.16],"nice":false,"zero":false}},"y2":{"datum":-5.3}}},
   {"mark":{"type":"rule","color":"#5555dd","strokeWidth":1},"transform":[{"filter":"isValid(datum.sa)"}],"encoding":{"x":{"datum":-26,"axis":null},"x2":{"datum":26},"y":{"datum":-5.3}}},
   {"mark":{"type":"rule","color":"#5555dd","strokeWidth":1.5,"strokeDash":[1.5,1.5]},"transform":[{"filter":"isValid(datum.sa)"}],"encoding":{"x":{"field":"sa","type":"quantitative","axis":null},"y":{"datum":-5.3},"y2":{"datum":0}}},
   {"mark":{"type":"line","color":"#0000cc","strokeWidth":2.5,"interpolate":"monotone"},"transform":[{"filter":"isValid(datum.a)"}],"encoding":{"x":{"field":"x","type":"quantitative","axis":null},"y":{"field":"a","type":"quantitative"}}},
   {"mark":{"type":"rule","color":"#1a1aaa","strokeWidth":2},"transform":[{"filter":"isValid(datum.sa)"}],"encoding":{"y":{"datum":1.16}}},
   {"mark":{"type":"rule","color":"#1a1aaa","strokeWidth":2},"transform":[{"filter":"isValid(datum.sa)"}],"encoding":{"y":{"datum":-5.72}}},
   {"mark":{"type":"rule","color":"#1a1aaa","strokeWidth":2},"transform":[{"filter":"isValid(datum.sa)&&datum.c==1"}],"encoding":{"x":{"datum":-32.5,"axis":null}}},
   {"mark":{"type":"rule","color":"#1a1aaa","strokeWidth":2},"transform":[{"filter":"isValid(datum.sa)&&datum.c==5"}],"encoding":{"x":{"datum":35.7,"axis":null}}},
   {"mark":{"type":"text","fontSize":16,"fontWeight":"bold","color":"#22228c","lineHeight":20,"align":"center","baseline":"middle"},"transform":[{"filter":"isValid(datum.sa)&&datum.c==5"}],"encoding":{"x":{"datum":64.9,"axis":null},"y":{"datum":-0.53},"text":{"value":["Auditory-","Alone","Trials"]}}}
  ]}},
 {"data":{"name":"d"},"transform":[{"filter":"indexof(datum.p,'B')>=0&&datum.c==0"}],
  "bounds":"flush","spacing":0,
  "facet":{"row":{"field":"r","type":"ordinal","title":null,"header":{"labels":false}}},
  "spec":{"width":92,"height":71,"layer":[
   {"mark":{"type":"area","color":"#ff66ff","opacity":0.6,"interpolate":"monotone"},"transform":[{"filter":"isValid(datum.v)"}],"encoding":{"x":{"field":"x","type":"quantitative","scale":{"domain":[-30,30],"nice":false,"zero":false},"axis":{"values":[-13,0,13],"labelExpr":"datum.value==0?'0':datum.value+'°'","title":"Azimuth (deg)","titleFontWeight":"normal","titleFontSize":12.5,"titleColor":"black","titlePadding":8,"offset":-20,"domain":false,"ticks":false,"grid":false,"labelPadding":9,"labelFontSize":12,"labelColor":"black"}},"y":{"field":"v","type":"quantitative","scale":{"domain":[-7.4,0.1],"nice":false,"zero":false}},"y2":{"datum":-5.3}}},
   {"mark":{"type":"rule","color":"#ee00ee","strokeWidth":1},"transform":[{"filter":"isValid(datum.sv)"}],"encoding":{"x":{"datum":-26},"x2":{"datum":26},"y":{"datum":-5.3}}},
   {"mark":{"type":"rule","color":"#ff55ff","strokeWidth":1.5,"strokeDash":[1.5,1.5]},"transform":[{"filter":"isValid(datum.sv)"}],"encoding":{"x":{"field":"sv","type":"quantitative"},"y":{"datum":-5.3},"y2":{"datum":0}}},
   {"mark":{"type":"line","color":"#ee00ee","strokeWidth":2.5,"interpolate":"monotone"},"transform":[{"filter":"isValid(datum.v)"}],"encoding":{"x":{"field":"x","type":"quantitative"},"y":{"field":"v","type":"quantitative"}}},
   {"mark":{"type":"rule","color":"#ee22ee","strokeWidth":2},"transform":[{"filter":"isValid(datum.sv)&&datum.r==1"}],"encoding":{"y":{"datum":1.16}}},
   {"mark":{"type":"rule","color":"#ee22ee","strokeWidth":2},"transform":[{"filter":"isValid(datum.sv)&&datum.r==5"}],"encoding":{"y":{"datum":-8.46}}},
   {"mark":{"type":"rule","color":"#ee22ee","strokeWidth":2},"transform":[{"filter":"isValid(datum.sv)"}],"encoding":{"x":{"datum":-30},"y":{"datum":1.16},"y2":{"datum":-8.46}}},
   {"mark":{"type":"rule","color":"#ee22ee","strokeWidth":2},"transform":[{"filter":"isValid(datum.sv)"}],"encoding":{"x":{"datum":30},"y":{"datum":1.16},"y2":{"datum":-8.46}}},
   {"mark":{"type":"text","angle":270,"fontSize":11.5,"color":"black"},"transform":[{"filter":"isValid(datum.sv)&&datum.r==5"}],"encoding":{"x":{"datum":-25},"y":{"datum":0},"text":{"value":"0"}}},
   {"mark":{"type":"text","angle":270,"fontSize":11.5,"color":"black"},"transform":[{"filter":"isValid(datum.sv)&&datum.r==5"}],"encoding":{"x":{"datum":-25},"y":{"datum":-2},"text":{"value":"-2"}}},
   {"mark":{"type":"text","angle":270,"fontSize":11.5,"color":"black"},"transform":[{"filter":"isValid(datum.sv)&&datum.r==5"}],"encoding":{"x":{"datum":-25},"y":{"datum":-4},"text":{"value":"-4"}}},
   {"mark":{"type":"text","angle":270,"fontSize":12.5,"color":"black"},"transform":[{"filter":"isValid(datum.sv)&&datum.r==5"}],"encoding":{"x":{"datum":-37},"y":{"datum":-2.8},"text":{"value":"Log Probability"}}},
   {"mark":{"type":"text","fontSize":16,"fontWeight":"bold","color":"#e620e6","lineHeight":18,"align":"center","baseline":"middle"},"transform":[{"filter":"isValid(datum.sv)&&datum.r==3"}],"encoding":{"x":{"datum":-51},"y":{"datum":-0.75},"text":{"value":["Visual-","Alone","Trials"]}}}
  ]}},
 {"data":{"name":"d"},"transform":[{"filter":"indexof(datum.p,'B')>=0&&datum.r>0&&datum.c>0"}],
  "bounds":"flush","spacing":0,
  "facet":{"row":{"field":"r","type":"ordinal","title":null,"header":{"labels":false}},"column":{"field":"c","type":"ordinal","title":null,"header":{"labels":false}}},
  "spec":{"width":105,"height":71,"layer":[
   {"mark":{"type":"area","color":"#ff66ff","opacity":0.6,"interpolate":"monotone"},"transform":[{"filter":"isValid(datum.v)"}],"encoding":{"x":{"field":"x","type":"quantitative","scale":{"domain":[-32.5,35.7],"nice":false,"zero":false},"axis":{"values":[-13,0,13],"labelExpr":"datum.value==0?'0':datum.value+'°'","title":null,"offset":-20,"domain":false,"ticks":false,"grid":false,"labelPadding":9,"labelFontSize":12,"labelColor":"black"}},"y":{"field":"v","type":"quantitative","scale":{"domain":[-7.4,0.1],"nice":false,"zero":false}},"y2":{"datum":-5.3}}},
   {"mark":{"type":"area","color":"#7777ee","opacity":0.6,"interpolate":"monotone"},"transform":[{"filter":"isValid(datum.a)"}],"encoding":{"x":{"field":"x","type":"quantitative"},"y":{"field":"a","type":"quantitative"},"y2":{"datum":-5.3}}},
   {"mark":{"type":"rule","color":"#3333cc","strokeWidth":1},"transform":[{"filter":"isValid(datum.sv)"}],"encoding":{"x":{"datum":-26},"x2":{"datum":26},"y":{"datum":-5.3}}},
   {"mark":{"type":"rule","color":"#ff55ff","strokeWidth":1.5,"strokeDash":[1.5,1.5]},"transform":[{"filter":"isValid(datum.sv)"}],"encoding":{"x":{"field":"sv","type":"quantitative"},"y":{"datum":-5.3},"y2":{"datum":0}}},
   {"mark":{"type":"rule","color":"#5555dd","strokeWidth":1.5,"strokeDash":[1.5,1.5]},"transform":[{"filter":"isValid(datum.sa)"}],"encoding":{"x":{"field":"sa","type":"quantitative"},"y":{"datum":-5.3},"y2":{"datum":0}}},
   {"mark":{"type":"line","color":"#ee00ee","strokeWidth":2.5,"interpolate":"monotone"},"transform":[{"filter":"isValid(datum.v)"}],"encoding":{"x":{"field":"x","type":"quantitative"},"y":{"field":"v","type":"quantitative"}}},
   {"mark":{"type":"line","color":"#0000cc","strokeWidth":2.5,"interpolate":"monotone"},"transform":[{"filter":"isValid(datum.a)"}],"encoding":{"x":{"field":"x","type":"quantitative"},"y":{"field":"a","type":"quantitative"}}},
   {"mark":{"type":"rule","color":"black","strokeWidth":2},"transform":[{"filter":"isValid(datum.sv)&&datum.r==1"}],"encoding":{"y":{"datum":1.16}}},
   {"mark":{"type":"rule","color":"black","strokeWidth":2},"transform":[{"filter":"isValid(datum.sv)&&datum.r==5"}],"encoding":{"y":{"datum":-8.46}}},
   {"mark":{"type":"rule","color":"black","strokeWidth":2},"transform":[{"filter":"isValid(datum.sv)&&datum.c==1"}],"encoding":{"x":{"datum":-32.5},"y":{"datum":1.16},"y2":{"datum":-8.46}}},
   {"mark":{"type":"rule","color":"black","strokeWidth":2},"transform":[{"filter":"isValid(datum.sv)&&datum.c==5"}],"encoding":{"x":{"datum":35.7},"y":{"datum":1.16},"y2":{"datum":-8.46}}},
   {"mark":{"type":"rule","color":"black","strokeWidth":2,"strokeDash":[6,4]},"transform":[{"filter":"isValid(datum.sv)&&((datum.r==1&&datum.c==4)||(datum.r==4&&datum.c==1))"}],"encoding":{"x":{"datum":-31},"x2":{"datum":35.7},"y":{"datum":0.4}}},
   {"mark":{"type":"rule","color":"black","strokeWidth":2,"strokeDash":[6,4]},"transform":[{"filter":"isValid(datum.sv)&&((datum.r==1&&datum.c==5)||(datum.r==4&&datum.c==2))"}],"encoding":{"x":{"datum":-32.5},"x2":{"datum":25.3},"y":{"datum":0.4}}},
   {"mark":{"type":"rule","color":"black","strokeWidth":2,"strokeDash":[6,4]},"transform":[{"filter":"isValid(datum.sv)&&((datum.r==2&&datum.c==4)||(datum.r==5&&datum.c==1))"}],"encoding":{"x":{"datum":-31},"x2":{"datum":35.7},"y":{"datum":-6.1}}},
   {"mark":{"type":"rule","color":"black","strokeWidth":2,"strokeDash":[6,4]},"transform":[{"filter":"isValid(datum.sv)&&((datum.r==2&&datum.c==5)||(datum.r==5&&datum.c==2))"}],"encoding":{"x":{"datum":-32.5},"x2":{"datum":25.3},"y":{"datum":-6.1}}},
   {"mark":{"type":"rule","color":"black","strokeWidth":2,"strokeDash":[6,4]},"transform":[{"filter":"isValid(datum.sv)&&((datum.r==1&&datum.c==4)||(datum.r==4&&datum.c==1))"}],"encoding":{"x":{"datum":-31},"y":{"datum":0.4},"y2":{"datum":-7.4}}},
   {"mark":{"type":"rule","color":"black","strokeWidth":2,"strokeDash":[6,4]},"transform":[{"filter":"isValid(datum.sv)&&((datum.r==2&&datum.c==4)||(datum.r==5&&datum.c==1))"}],"encoding":{"x":{"datum":-31},"y":{"datum":0.1},"y2":{"datum":-6.1}}},
   {"mark":{"type":"rule","color":"black","strokeWidth":2,"strokeDash":[6,4]},"transform":[{"filter":"isValid(datum.sv)&&((datum.r==1&&datum.c==5)||(datum.r==4&&datum.c==2))"}],"encoding":{"x":{"datum":25.3},"y":{"datum":0.4},"y2":{"datum":-7.4}}},
   {"mark":{"type":"rule","color":"black","strokeWidth":2,"strokeDash":[6,4]},"transform":[{"filter":"isValid(datum.sv)&&((datum.r==2&&datum.c==5)||(datum.r==5&&datum.c==2))"}],"encoding":{"x":{"datum":25.3},"y":{"datum":0.1},"y2":{"datum":-6.1}}},
   {"mark":{"type":"text","fontSize":16,"fontWeight":"bold","color":"black","lineHeight":21,"align":"center","baseline":"middle"},"transform":[{"filter":"isValid(datum.sv)&&datum.r==3&&datum.c==5"}],"encoding":{"x":{"datum":65.6},"y":{"datum":-1.27},"text":{"value":["Audiovisual","Trials"]}}}
  ]}}
],"columns":2,"align":"each","spacing":{"row":6,"column":0}}
]
}
